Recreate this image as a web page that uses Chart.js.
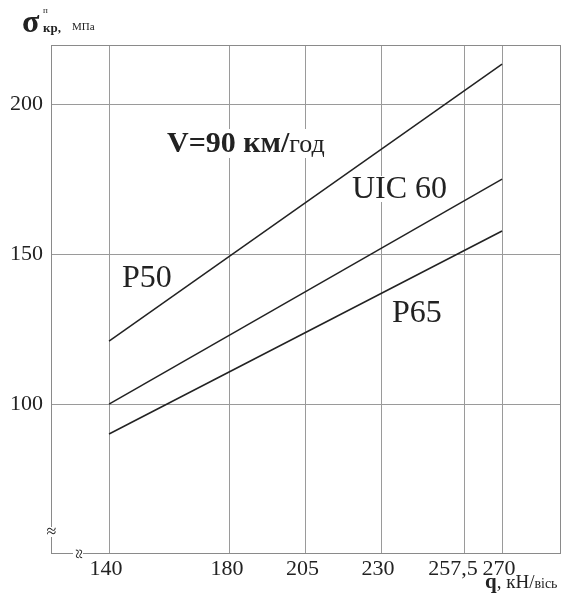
<!DOCTYPE html>
<html><head><meta charset="utf-8">
<script src="https://cdn.jsdelivr.net/npm/chart.js@4"></script>
<style>html,body{margin:0;padding:0;background:#fff}</style>
</head><body>
<canvas id="c" width="574" height="607"></canvas>
<script>
// ---- data ----
const xTicks = [140, 180, 205, 230, 257.5, 270];
const yTicks = [100, 150, 200];
const loadQ = [140, 270];           // q, кН/вісь
const sigmaP50 = [121, 213.3];      // σ, МПа
const sigmaUIC60 = [100, 175];
const sigmaP65 = [90, 157.7];
const seriesNames = ['P50', 'UIC 60', 'P65'];

const toPts = ys => loadQ.map((q, i) => ({x: q, y: ys[i]}));
const SERIF = "'Liberation Serif', 'DejaVu Serif', serif";
const GRID = '#9a9a9a';
const INK = '#222';

function runs(ctx, x, y, parts, bg) {
  let cx = x;
  const seg = [];
  parts.forEach(p => {
    ctx.font = p.font;
    const w = ctx.measureText(p.t).width;
    seg.push({p, x: cx, w});
    cx += w;
  });
  if (bg) {
    ctx.fillStyle = '#fff';
    ctx.fillRect(x - 2, y - bg[0], cx - x + 4, bg[0] + bg[1]);
  }
  ctx.fillStyle = INK;
  ctx.textBaseline = 'alphabetic';
  ctx.textAlign = 'left';
  seg.forEach(s => {
    ctx.font = s.p.font;
    ctx.fillText(s.p.t, s.x, y + (s.p.dy || 0));
  });
}

const decor = {
  id: 'decor',
  beforeDatasetsDraw(chart) {
    const {ctx, chartArea: a} = chart;
    ctx.save();
    ctx.strokeStyle = '#8a8a8a';
    ctx.lineWidth = 1;
    ctx.strokeRect(Math.round(a.left) + 0.5, Math.round(a.top) + 0.5,
                   Math.round(a.right - a.left) - 1, Math.round(a.bottom - a.top) - 1);
    ctx.restore();
  },
  afterDraw(chart) {
    const {ctx, chartArea: a} = chart;
    ctx.save();
    // series labels (white background hides grid lines)
    runs(ctx, 167, 152, [
      {t: 'V=90 км/', font: `bold 30px ${SERIF}`},
      {t: 'год', font: `26px ${SERIF}`}
    ], [23, 6]);
    runs(ctx, 122, 287, [{t: seriesNames[0], font: `32px ${SERIF}`}], [22, 4]);
    runs(ctx, 352, 198, [{t: seriesNames[1], font: `32px ${SERIF}`}], [22, 4]);
    runs(ctx, 392, 322, [{t: seriesNames[2], font: `32px ${SERIF}`}], [22, 4]);

    // y-axis title
    runs(ctx, 22, 32, [{t: 'σ', font: `bold 32px ${SERIF}`}]);
    runs(ctx, 43, 13, [{t: 'п', font: `9px ${SERIF}`}]);
    runs(ctx, 43, 32, [{t: 'кр,', font: `bold 13px ${SERIF}`}]);
    runs(ctx, 72, 30, [{t: 'МПа', font: `11px ${SERIF}`}]);

    // x-axis title
    runs(ctx, 485, 588, [
      {t: 'q', font: `bold 21px ${SERIF}`},
      {t: ', кН/', font: `19px ${SERIF}`},
      {t: 'вісь', font: `14px ${SERIF}`}
    ]);

    // axis break marks
    ctx.fillStyle = '#fff';
    ctx.fillRect(a.left - 3, 527, 7, 10);
    ctx.fillStyle = INK;
    ctx.font = `18px ${SERIF}`;
    ctx.textAlign = 'center';
    ctx.textBaseline = 'middle';
    ctx.fillText('≈', a.left + 0.5, 532);
    ctx.save();
    ctx.translate(78, a.bottom);
    ctx.rotate(Math.PI / 2);
    ctx.fillStyle = '#fff';
    ctx.fillRect(-3, -5, 6, 10);
    ctx.fillStyle = INK;
    ctx.fillText('≈', 0, 0);
    ctx.restore();
    ctx.restore();
  }
};

const lineDs = (label, ys) => ({
  label, data: toPts(ys), borderColor: INK, borderWidth: 1.5,
  pointRadius: 0, fill: false, tension: 0
});

new Chart(document.getElementById('c'), {
  type: 'line',
  data: {datasets: [
    lineDs(seriesNames[0], sigmaP50),
    lineDs(seriesNames[1], sigmaUIC60),
    lineDs(seriesNames[2], sigmaP65)
  ]},
  options: {
    responsive: false,
    animation: false,
    layout: {padding: {top: 45, right: 13, left: 0, bottom: 0}},
    plugins: {legend: {display: false}, tooltip: {enabled: false}},
    scales: {
      x: {
        type: 'linear', min: 120.8, max: 289.5,
        afterBuildTicks: s => { s.ticks = xTicks.map(v => ({value: v})); },
        afterFit: s => { s.height = 53; },
        grid: {color: GRID, lineWidth: 1, drawTicks: false},
        border: {display: false},
        ticks: {
          autoSkip: false, maxRotation: 0, minRotation: 0, padding: 2, labelOffset: -3,
          color: INK, font: {family: SERIF, size: 22},
          callback: v => v === 257.5 ? '257,5   ' : String(v)
        }
      },
      y: {
        type: 'linear', min: 50, max: 219.7,
        afterBuildTicks: s => { s.ticks = yTicks.map(v => ({value: v})); },
        afterFit: s => { s.width = 51; },
        grid: {color: GRID, lineWidth: 1, drawTicks: false},
        border: {display: false},
        ticks: {padding: 8, color: INK, font: {family: SERIF, size: 22},
                callback: v => String(v)}
      }
    }
  },
  plugins: [decor]
});
</script>
</body></html>
